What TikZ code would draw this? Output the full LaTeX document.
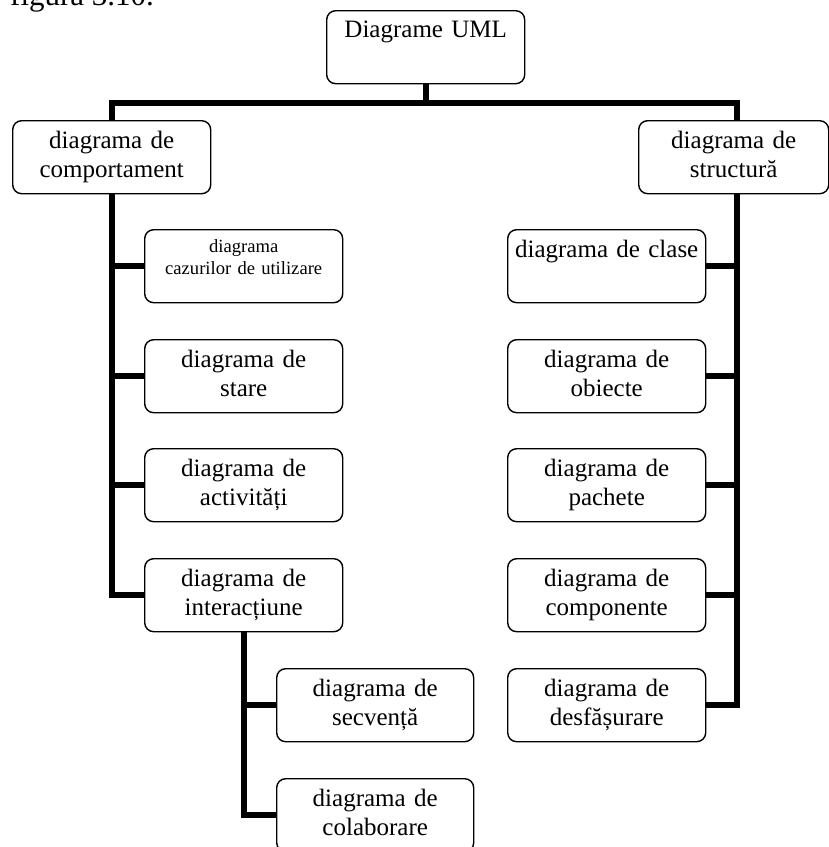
\documentclass[tikz,border=0pt]{standalone}
\usepackage{fontspec}
\setmainfont{Liberation Serif}
\usetikzlibrary{backgrounds}

\tikzset{
  box/.style={draw, fill=white, rounded corners=9pt, line width=1.4pt,
    inner sep=0pt, minimum width=198pt, minimum height=73pt,
    text width=198pt, align=center, text height=28pt, text depth=45pt,
    font=\fontsize{25}{28.5}\selectfont},
  smallbox/.style={box, text height=23pt, text depth=50pt,
    font=\fontsize{18.6}{21.7}\selectfont},
  conn/.style={draw, line width=6pt, line join=miter}
}

\begin{document}
\begin{tikzpicture}[x=1pt, y=-1pt]
\useasboundingbox (0,0) rectangle (829,847);
\clip (0,0) rectangle (829,847);

% caption line running off the top edge
\node[anchor=base west, inner sep=0pt, font=\fontsize{31}{36}\selectfont] (fig) at (10,5) {figura 3.10.};

% root
\node[box, anchor=north west, text height=27pt, text depth=46pt] (uml) at (326,10) {Diagrame UML};

% main branches
\node[box, anchor=north west] (comp) at (12,120) {diagrama de\\comportament};
\node[box, anchor=north west, minimum width=190pt, text width=190pt] (struct) at (638,120) {diagrama de\\structură};

% behaviour diagrams
\node[smallbox, anchor=north west] (caz) at (144,229) {diagrama\\cazurilor de utilizare};
\node[box, anchor=north west] (stare) at (144,339) {diagrama de\\stare};
\node[box, anchor=north west] (activ) at (144,448) {diagrama de\\activități};
\node[box, anchor=north west] (inter) at (144,558) {diagrama de\\interacțiune};

% interaction diagrams
\node[box, anchor=north west, minimum width=197pt, text width=197pt] (secv) at (276,668) {diagrama de\\secvență};
\node[box, anchor=north west, minimum width=197pt, text width=197pt] (colab) at (276,778) {diagrama de\\colaborare};

% structure diagrams
\node[box, anchor=north west] (clase) at (507,229) {diagrama de clase};
\node[box, anchor=north west] (obiecte) at (507,339) {diagrama de\\obiecte};
\node[box, anchor=north west] (pachete) at (507,448) {diagrama de\\pachete};
\node[box, anchor=north west] (compon) at (507,558) {diagrama de\\componente};
\node[box, anchor=north west] (desf) at (507,668) {diagrama de\\desfășurare};

% connectors behind the boxes
\begin{pgfonlayer}{background}
  \coordinate (hy) at (0,103);
  \coordinate (rx) at (737,103);
  \draw[conn] (uml.south) -- (uml.south |- hy);
  \draw[conn] (inter.west) -- (comp.center |- inter.west) -- (comp.center |- hy)
              -- (rx) -- (rx |- desf.east) -- (desf.east);
  \foreach \n in {caz, stare, activ}
    \draw[conn] (\n.west) -- (comp.center |- \n.west);
  \foreach \n in {clase, obiecte, pachete, compon}
    \draw[conn] (\n.east) -- (rx |- \n.east);
  \draw[conn] (colab.west) -- (inter.south |- colab.west) -- (inter.south);
  \draw[conn] (secv.west) -- (inter.south |- secv.west);
\end{pgfonlayer}
\end{tikzpicture}
\end{document}
